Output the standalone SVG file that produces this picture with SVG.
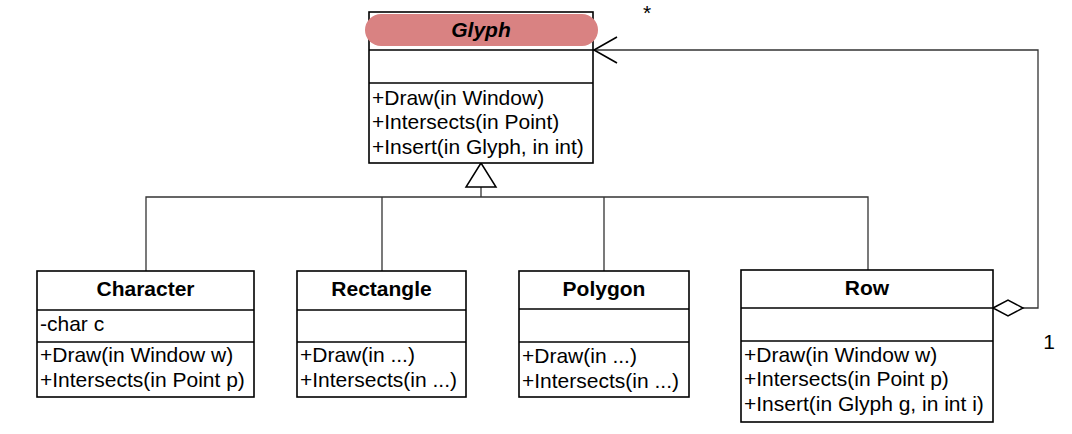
<svg xmlns="http://www.w3.org/2000/svg" width="1072" height="434" viewBox="0 0 1072 434">
<style>
.box{fill:#fff;stroke:#000;stroke-width:1.6}
.div{stroke:#000;stroke-width:1.6}
.t{font-family:"Liberation Sans",Arial,sans-serif;font-size:21px;fill:#000}
.title{font-weight:bold;text-anchor:middle}
.conn{fill:none;stroke:#333;stroke-width:1.3}
.head{fill:#fff;stroke:#000;stroke-width:1.5}
.open{fill:none;stroke:#000;stroke-width:1.6}
</style>
<rect width="1072" height="434" fill="#fff"/>
<g id="connectors">
<path class="conn" d="M146,271 V197 H868 V270 M382,197 V271 M604,197 V271 M481,197 V187"/>
<polygon class="head" points="481,163 466,187 496,187"/>
<path class="conn" d="M1023,308 H1038 V50 H593"/>
<polygon class="head" points="993,308 1008,300 1023,308 1008,316"/>
<polyline class="open" points="617,37 594,50 617,63"/>
<text class="t" x="647" y="20" text-anchor="middle">*</text>
<text class="t" x="1049" y="349" text-anchor="middle">1</text>
</g>
<g id="glyph">
<rect class="box" x="369" y="12" width="224" height="151"/>
<line class="div" x1="369" y1="50" x2="593" y2="50"/>
<line class="div" x1="369" y1="83" x2="593" y2="83"/>
<rect x="365" y="14" width="233" height="32" rx="16" ry="16" fill="#d98282"/>
<text class="t title" x="481" y="37" font-style="italic">Glyph</text>
<text class="t" x="372" y="105">+Draw(in Window)</text>
<text class="t" x="372" y="129">+Intersects(in Point)</text>
<text class="t" x="372" y="154">+Insert(in Glyph, in int)</text>
</g>
<g id="character">
<rect class="box" x="37" y="271" width="217" height="126"/>
<line class="div" x1="37" y1="310" x2="254" y2="310"/>
<line class="div" x1="37" y1="342" x2="254" y2="342"/>
<text class="t title" x="145.5" y="296">Character</text>
<text class="t" x="40" y="331">-char c</text>
<text class="t" x="40" y="362">+Draw(in Window w)</text>
<text class="t" x="40" y="387">+Intersects(in Point p)</text>
</g>
<g id="rectangle">
<rect class="box" x="297" y="271" width="169" height="126"/>
<line class="div" x1="297" y1="310" x2="466" y2="310"/>
<line class="div" x1="297" y1="342" x2="466" y2="342"/>
<text class="t title" x="381.5" y="296">Rectangle</text>
<text class="t" x="300" y="362">+Draw(in ...)</text>
<text class="t" x="300" y="387">+Intersects(in ...)</text>
</g>
<g id="polygon">
<rect class="box" x="519" y="271" width="170" height="126"/>
<line class="div" x1="519" y1="309" x2="689" y2="309"/>
<line class="div" x1="519" y1="342" x2="689" y2="342"/>
<text class="t title" x="604" y="296">Polygon</text>
<text class="t" x="522" y="363">+Draw(in ...)</text>
<text class="t" x="522" y="388">+Intersects(in ...)</text>
</g>
<g id="row">
<rect class="box" x="741" y="270" width="252" height="152"/>
<line class="div" x1="741" y1="308" x2="993" y2="308"/>
<line class="div" x1="741" y1="341" x2="993" y2="341"/>
<text class="t title" x="867" y="295">Row</text>
<text class="t" x="744" y="362">+Draw(in Window w)</text>
<text class="t" x="744" y="386">+Intersects(in Point p)</text>
<text class="t" x="744" y="411">+Insert(in Glyph g, in int i)</text>
</g>
</svg>
